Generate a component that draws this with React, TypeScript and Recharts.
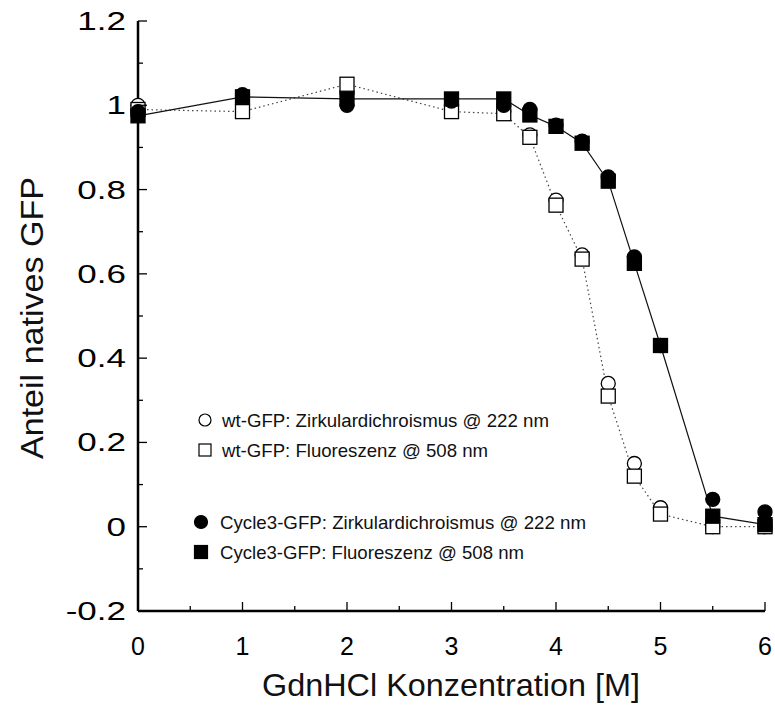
import React from 'react';
import { LineChart, Line, XAxis, YAxis, Legend } from 'recharts';

const concentrations = [0, 1, 2, 3, 3.5, 3.75, 4, 4.25, 4.5, 4.75, 5, 5.5, 6];
const wtCD = [1.0, 0.99, 1.03, 0.99, 0.985, 0.93, 0.775, 0.645, 0.34, 0.15, 0.045, 0.0, 0.0];
const wtFl = [0.99, 0.985, 1.05, 0.985, 0.98, 0.924, 0.763, 0.635, 0.31, 0.12, 0.03, 0.0, 0.0];
const c3CD = [0.985, 1.025, 1.0, 1.01, 1.0, 0.99, 0.953, 0.915, 0.83, 0.64, 0.43, 0.065, 0.035];
const c3Fl = [0.975, 1.02, 1.015, 1.015, 1.015, 0.977, 0.95, 0.91, 0.82, 0.625, 0.43, 0.025, 0.005];

const xTicks = [0, 0.5, 1, 1.5, 2, 2.5, 3, 3.5, 4, 4.5, 5, 5.5, 6];
const yTicks = [-0.2, -0.1, 0, 0.1, 0.2, 0.3, 0.4, 0.5, 0.6, 0.7, 0.8, 0.9, 1, 1.1, 1.2];

const legendNames = [
  'wt-GFP: Zirkulardichroismus @ 222 nm',
  'wt-GFP: Fluoreszenz @ 508 nm',
  'Cycle3-GFP: Zirkulardichroismus @ 222 nm',
  'Cycle3-GFP: Fluoreszenz @ 508 nm',
];

const data = concentrations.map((c, i) => ({
  c,
  wtCD: wtCD[i],
  wtFl: wtFl[i],
  c3CD: c3CD[i],
  c3Fl: c3Fl[i],
}));

const FONT = '"Liberation Sans", Arial, Helvetica, sans-serif';

const Marker = ({ cx, cy, shape, filled }: any) => {
  if (cx == null || cy == null) return null;
  const fill = filled ? '#000' : '#fff';
  if (shape === 'circle') {
    return <circle cx={cx} cy={cy} r={7} fill={fill} stroke="#000" strokeWidth={1.3} />;
  }
  return <rect x={cx - 7} y={cy - 7} width={14} height={14} fill={fill} stroke="#000" strokeWidth={1.3} />;
};

const isMajorY = (v: number) => Math.abs(Math.round(v * 10)) % 2 === 0;

const LeftTick = ({ x, y, payload }: any) => {
  const major = isMajorY(payload.value);
  return (
    <g>
      <line x1={x} x2={x + (major ? 9 : 5)} y1={y} y2={y} stroke="#000" strokeWidth={1.3} />
      {major && (
        <g transform={`translate(${x - 12},${y}) scale(1.4,1)`}>
          <text x={0} y={0} dy={9} textAnchor="end" fontSize={25} fontFamily={FONT} fill="#000">
            {payload.value}
          </text>
        </g>
      )}
    </g>
  );
};

const RightTick = ({ x, y, payload }: any) => {
  const major = isMajorY(payload.value);
  return <line x1={x} x2={x - (major ? 9 : 5)} y1={y} y2={y} stroke="#000" strokeWidth={1.3} />;
};

const BottomTick = ({ x, y, payload }: any) => {
  const major = Number.isInteger(payload.value);
  return (
    <g>
      <line x1={x} x2={x} y1={y} y2={y - (major ? 9 : 5)} stroke="#000" strokeWidth={1.3} />
      {major && (
        <text x={x} y={y + 44} textAnchor="middle" fontSize={25} fontFamily={FONT} fill="#000">
          {payload.value}
        </text>
      )}
    </g>
  );
};

const TopTick = ({ x, y, payload }: any) => {
  const major = Number.isInteger(payload.value);
  return <line x1={x} x2={x} y1={y} y2={y + (major ? 9 : 5)} stroke="#000" strokeWidth={1.3} />;
};

const legendRows = [
  { shape: 'circle', filled: false, dy: 15, len: 327 },
  { shape: 'square', filled: false, dy: 45, len: 266 },
  { shape: 'circle', filled: true, dy: 117, len: 366 },
  { shape: 'square', filled: true, dy: 147, len: 304 },
];

const renderLegend = () => (
  <svg width={420} height={170}>
    {legendNames.map((name, i) => {
      const row = legendRows[i];
      const filled = row.filled;
      const mx = filled ? 11 : 15;
      const size = filled ? 6.5 : 6;
      return (
        <g key={name}>
          {row.shape === 'circle' ? (
            <circle cx={mx} cy={row.dy} r={size} fill={filled ? '#000' : '#fff'} stroke="#000" strokeWidth={1.2} />
          ) : (
            <rect x={mx - size} y={row.dy - size} width={size * 2} height={size * 2} fill={filled ? '#000' : '#fff'} stroke="#000" strokeWidth={1.2} />
          )}
          <text
            x={filled ? 30 : 32}
            y={row.dy + 6.5}
            fontSize={18.5}
            fontFamily={FONT}
            fill="#111"
            textLength={row.len}
            lengthAdjust="spacingAndGlyphs"
          >
            {name}
          </text>
        </g>
      );
    })}
  </svg>
);

export default function App() {
  return (
    <div style={{ position: 'absolute', left: 0, top: 0, width: 775, height: 713, background: '#fff' }}>
      <LineChart width={775} height={713} data={data} margin={{ top: 21, right: 10, left: 0, bottom: 0 }}>
        <XAxis
          xAxisId="b"
          dataKey="c"
          type="number"
          domain={[0, 6]}
          ticks={xTicks}
          interval={0}
          height={102}
          tickSize={0}
          tickMargin={0}
          tickLine={false}
          tick={<BottomTick />}
          axisLine={{ stroke: '#000', strokeWidth: 2.5 }}
        />
        <XAxis
          xAxisId="t"
          orientation="top"
          dataKey="c"
          type="number"
          domain={[0, 6]}
          ticks={xTicks}
          interval={0}
          height={0}
          tickSize={0}
          tickMargin={0}
          tickLine={false}
          tick={<TopTick />}
          axisLine={{ stroke: '#000', strokeWidth: 2.5 }}
        />
        <YAxis
          yAxisId="l"
          type="number"
          domain={[-0.2, 1.2]}
          ticks={yTicks}
          interval={0}
          width={138}
          tickSize={0}
          tickMargin={0}
          tickLine={false}
          tick={<LeftTick />}
          axisLine={{ stroke: '#000', strokeWidth: 2.5 }}
        />
        <YAxis
          yAxisId="r"
          orientation="right"
          type="number"
          domain={[-0.2, 1.2]}
          ticks={yTicks}
          interval={0}
          width={0}
          tickSize={0}
          tickMargin={0}
          tickLine={false}
          tick={<RightTick />}
          axisLine={{ stroke: '#000', strokeWidth: 2.5 }}
        />
        <Legend
          layout="vertical"
          align="center"
          verticalAlign="middle"
          content={renderLegend}
          wrapperStyle={{ position: 'absolute', left: 190, top: 405, width: 420, height: 170 }}
        />
        {/* wt-GFP: dotted line through the fluorescence points, CD shown as markers */}
        <Line
          xAxisId="b"
          yAxisId="l"
          dataKey="wtCD"
          name={legendNames[0]}
          stroke="none"
          isAnimationActive={false}
          dot={(p: any) => <Marker key={`a${p.index}`} cx={p.cx} cy={p.cy} shape="circle" filled={false} />}
          activeDot={false}
        />
        <Line
          xAxisId="b"
          yAxisId="l"
          dataKey="wtFl"
          name={legendNames[1]}
          stroke="#444"
          strokeWidth={1.2}
          strokeDasharray="1.5 3"
          isAnimationActive={false}
          dot={(p: any) => <Marker key={`b${p.index}`} cx={p.cx} cy={p.cy} shape="square" filled={false} />}
          activeDot={false}
        />
        <Line
          xAxisId="b"
          yAxisId="l"
          dataKey="c3CD"
          name={legendNames[2]}
          stroke="none"
          isAnimationActive={false}
          dot={(p: any) => <Marker key={`c${p.index}`} cx={p.cx} cy={p.cy} shape="circle" filled />}
          activeDot={false}
        />
        <Line
          xAxisId="b"
          yAxisId="l"
          dataKey="c3Fl"
          name={legendNames[3]}
          stroke="#111"
          strokeWidth={1.2}
          isAnimationActive={false}
          dot={(p: any) => <Marker key={`d${p.index}`} cx={p.cx} cy={p.cy} shape="square" filled />}
          activeDot={false}
        />
        <text x={451} y={696} textAnchor="middle" fontSize={32} fontFamily={FONT} fill="#111" textLength={378} lengthAdjust="spacingAndGlyphs">
          GdnHCl Konzentration [M]
        </text>
        <text transform="translate(32,318) rotate(-90)" textAnchor="middle" dy={11} fontSize={32} fontFamily={FONT} fill="#111" textLength={282} lengthAdjust="spacingAndGlyphs">
          Anteil natives GFP
        </text>
      </LineChart>
    </div>
  );
}
